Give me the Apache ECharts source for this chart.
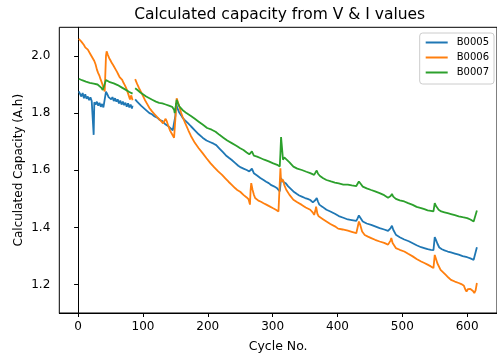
<!DOCTYPE html>
<html><head><meta charset="utf-8">
<script src="https://cdn.jsdelivr.net/npm/echarts@6/dist/echarts.min.js"></script>
<style>html,body{margin:0;padding:0;background:#fff}#c{width:497px;height:358px}</style>
</head><body><div id="c"></div>
<script>
const chartTitle = "Calculated capacity from V & I values";
const xLabel = "Cycle No.";
const yLabel = "Calculated Capacity (A.h)";
const seriesNames = ["B0005", "B0006", "B0007"];
const xTicks = [0, 100, 200, 300, 400, 500, 600];
const yTicks = [1.2, 1.4, 1.6, 1.8, 2.0];

const b5Cycles = [1,3,5,7,9,11,13,15,17,19,21,23,24,25,27,29,31,33,35,37,39,41,43,45,47,49,51,53,55,57,59,61,63,65,67,69,71,73,75,77,79,81,83,84,86,
88,91,94,97,100,103,106,110,114,118,122,126,130,134,138,142,146,148,150,151,153,156,159,161,165,169,174,180,186,192,198,204,209,213,218,223,228,233,237,242,247,251,255,260,264,266,268,271,276,281,286,290,294,298,302,307,311,312,313,315,316,318,320,324,328,332,337,341,345,350,354,358,362,364,366,368,370,372,377,383,389,396,402,409,416,422,429,431,433,436,439,445,452,458,465,472,478,480,482,484,486,490,496,503,510,516,522,529,535,539,544,548,550,552,554,557,561,565,570,575,581,587,593,600,605,610,612,615];
const b5Cap = [1.876,1.881,1.858,1.870,1.852,1.866,1.850,1.858,1.845,1.855,1.842,1.848,1.724,1.838,1.830,1.840,1.826,1.836,1.822,1.832,1.820,1.826,1.875,1.866,1.856,1.862,1.848,1.856,1.842,1.852,1.840,1.848,1.834,1.844,1.830,1.840,1.828,1.836,1.822,1.834,1.820,1.830,1.816,1.826,null,
1.848,1.840,1.834,1.826,1.822,1.814,1.810,1.800,1.796,1.788,1.784,1.776,1.772,1.762,1.756,1.748,1.740,1.734,1.790,1.835,1.818,1.802,1.792,1.784,1.774,1.766,1.754,1.740,1.726,1.714,1.704,1.698,1.693,1.688,1.676,1.664,1.652,1.643,1.636,1.626,1.616,1.610,1.606,1.601,1.596,1.594,1.606,1.590,1.582,1.573,1.566,1.560,1.555,1.548,1.544,1.537,1.526,1.548,1.573,1.562,1.560,1.557,1.555,1.544,1.535,1.526,1.518,1.512,1.508,1.503,1.500,1.496,1.488,1.485,1.496,1.503,1.490,1.480,1.472,1.462,1.456,1.448,1.440,1.434,1.428,1.426,1.423,1.432,1.442,1.440,1.421,1.414,1.409,1.404,1.398,1.393,1.388,1.386,1.398,1.406,1.392,1.375,1.366,1.358,1.352,1.345,1.338,1.331,1.327,1.324,1.322,1.321,1.366,1.356,1.344,1.330,1.324,1.320,1.316,1.313,1.309,1.305,1.300,1.296,1.292,1.287,1.290,1.331];

const b6Cycles = [1,3,5,7,9,11,13,15,17,19,21,23,25,27,29,31,33,35,37,39,41,43,44,46,48,50,52,54,56,58,60,62,64,66,68,70,72,74,76,78,80,82,84,86,
88,91,94,97,100,103,106,110,114,118,122,125,128,131,133,135,137,139,142,145,148,150,152,154,156,159,161,165,170,174,180,186,192,198,204,210,216,222,227,232,237,242,246,250,255,260,263,265,266,267,269,271,273,278,282,286,291,296,300,305,309,311,312,313,314,316,318,321,326,332,338,345,351,358,362,364,366,367,369,371,377,383,389,396,401,408,416,422,429,431,433,435,438,442,447,452,458,465,472,478,480,482,483,485,490,496,503,509,516,522,529,534,539,544,548,550,552,554,559,563,567,571,575,581,587,591,595,597,599,601,603,605,607,609,611,613,615];
const b6Cap = [2.060,2.063,2.050,2.044,2.038,2.030,2.027,2.022,2.019,2.006,1.998,1.990,1.982,1.970,1.952,1.940,1.930,1.916,1.904,1.890,1.876,2.000,2.016,2.003,1.992,1.984,1.975,1.968,1.962,1.952,1.944,1.935,1.926,1.920,1.916,1.906,1.898,1.888,1.876,1.862,1.848,1.862,1.845,null,
1.919,1.902,1.887,1.874,1.860,1.846,1.834,1.818,1.806,1.796,1.786,1.780,1.772,1.764,1.760,1.780,1.770,1.756,1.738,1.726,1.714,1.780,1.852,1.838,1.823,1.800,1.788,1.766,1.740,1.720,1.696,1.677,1.660,1.642,1.625,1.610,1.596,1.584,1.572,1.560,1.549,1.538,1.530,1.525,1.514,1.505,1.498,1.480,1.530,1.555,1.532,1.515,1.503,1.494,1.490,1.485,1.479,1.473,1.468,1.462,1.456,1.454,1.607,1.560,1.555,1.567,1.548,1.532,1.514,1.497,1.488,1.479,1.470,1.462,1.452,1.444,1.460,1.473,1.448,1.439,1.430,1.421,1.412,1.404,1.396,1.393,1.389,1.385,1.380,1.400,1.421,1.410,1.386,1.374,1.368,1.363,1.357,1.351,1.346,1.340,1.339,1.355,1.363,1.346,1.328,1.322,1.316,1.308,1.299,1.290,1.281,1.276,1.270,1.264,1.258,1.304,1.290,1.275,1.252,1.243,1.234,1.225,1.217,1.211,1.206,1.202,1.196,1.184,1.176,1.184,1.188,1.185,1.186,1.178,1.171,1.180,1.206];

const b7Cycles = [1,3,6,9,12,15,18,21,24,27,30,33,36,38,40,43,46,49,52,55,58,61,64,67,70,73,76,79,82,84,86,
88,92,96,100,105,110,115,120,125,130,135,140,145,148,149,151,152,154,156,161,167,174,180,186,192,199,206,212,218,224,230,237,244,250,255,260,264,266,268,271,276,281,287,294,300,307,311,312,313,314,316,318,320,326,332,338,345,352,358,364,366,368,370,373,378,383,390,396,402,409,416,422,429,431,433,436,439,445,452,458,465,472,478,480,482,484,486,490,496,503,509,516,522,529,534,539,544,548,550,552,556,560,565,570,575,581,587,593,600,605,610,612,615];
const b7Cap = [1.920,1.922,1.915,1.914,1.910,1.908,1.906,1.905,1.903,1.902,1.900,1.898,1.888,1.881,1.885,1.916,1.912,1.908,1.906,1.904,1.902,1.898,1.893,1.890,1.886,1.882,1.880,1.874,1.870,1.868,null,
1.887,1.880,1.872,1.866,1.858,1.852,1.846,1.840,1.836,1.834,1.830,1.826,1.822,1.812,1.800,1.830,1.846,1.834,1.824,1.811,1.800,1.790,1.780,1.770,1.760,1.748,1.742,1.735,1.724,1.714,1.704,1.695,1.686,1.677,1.671,1.662,1.656,1.660,1.666,1.651,1.648,1.643,1.637,1.631,1.625,1.619,1.613,1.660,1.716,1.690,1.637,1.645,1.643,1.628,1.613,1.606,1.601,1.595,1.590,1.584,1.592,1.599,1.588,1.580,1.572,1.566,1.561,1.557,1.554,1.550,1.550,1.547,1.545,1.553,1.561,1.552,1.543,1.537,1.531,1.526,1.520,1.513,1.504,1.499,1.510,1.517,1.508,1.500,1.495,1.491,1.485,1.479,1.472,1.468,1.464,1.460,1.458,1.456,1.485,1.475,1.462,1.456,1.453,1.450,1.447,1.443,1.439,1.436,1.433,1.428,1.421,1.424,1.459];

const colors = ["#1f77b4", "#ff7f0e", "#2ca02c"];
const FONT = "DejaVu Sans";

function pairs(xs, ys) { return xs.map((x, i) => [x, ys[i]]); }
const allSeries = [pairs(b5Cycles, b5Cap), pairs(b6Cycles, b6Cap), pairs(b7Cycles, b7Cap)];

const chart = echarts.init(document.getElementById('c'), null, {renderer: 'canvas'});
const gridLeft = 59.3, gridTop = 27.3, gridRight = -3.1, gridBottom = 44.7;
chart.setOption({
  animation: false,
  backgroundColor: '#fff',
  textStyle: {fontFamily: FONT},
  graphic: [{
    type: 'text', x: 279.7, y: 7,
    style: {text: chartTitle, fontFamily: FONT, fontSize: 15.5, fill: '#000', align: 'center', verticalAlign: 'top'}
  }],
  grid: {left: gridLeft, top: gridTop, right: gridRight, bottom: gridBottom, show: true, borderColor: '#000', borderWidth: 1, backgroundColor: 'transparent'},
  legend: {
    orient: 'vertical', right: 3, top: 33,
    data: seriesNames,
    icon: 'rect', itemWidth: 22, itemHeight: 2, itemGap: 0,
    padding: [2, 5, 4, 6],
    backgroundColor: '#fff', borderColor: '#cccccc', borderWidth: 1, borderRadius: 3,
    textStyle: {fontFamily: FONT, fontSize: 10, color: '#000', lineHeight: 15, padding: [0, 0, 0, 4]}
  },
  xAxis: {
    type: 'value', min: -29, max: 646,
    name: xLabel, nameLocation: 'middle', nameGap: 27, nameMoveOverlap: false,
    nameTextStyle: {fontFamily: FONT, fontSize: 12.5, color: '#000'},
    axisLine: {show: true, lineStyle: {color: '#000', width: 1}},
    axisTick: {show: true, length: 4, lineStyle: {color: '#000', width: 1}, customValues: xTicks},
    axisLabel: {show: true, margin: 8, fontFamily: FONT, fontSize: 12, color: '#000', customValues: xTicks,
      formatter: v => (xTicks.indexOf(Math.round(v)) >= 0 && Math.abs(v - Math.round(v)) < 1e-6) ? String(Math.round(v)) : ''},
    splitLine: {show: false}
  },
  yAxis: {
    type: 'value', min: 1.101, max: 2.100,
    name: yLabel, nameLocation: 'middle', nameGap: 34, nameRotate: 90, nameMoveOverlap: false,
    nameTextStyle: {fontFamily: FONT, fontSize: 12, color: '#000'},
    axisLine: {show: true, lineStyle: {color: '#000', width: 1}},
    axisTick: {show: true, length: 4, lineStyle: {color: '#000', width: 1}, customValues: yTicks},
    axisLabel: {show: true, margin: 9, fontFamily: FONT, fontSize: 12, color: '#000', customValues: yTicks,
      formatter: v => (Math.abs(v * 5 - Math.round(v * 5)) < 1e-6) ? v.toFixed(1) : ''},
    splitLine: {show: false}
  },
  series: allSeries.map((d, i) => ({
    name: seriesNames[i], type: 'line', data: d,
    showSymbol: false, symbol: 'none', connectNulls: false,
    lineStyle: {color: colors[i], width: 1.8}, itemStyle: {color: colors[i]},
    z: 2 + i
  }))
});
</script>
</body></html>
